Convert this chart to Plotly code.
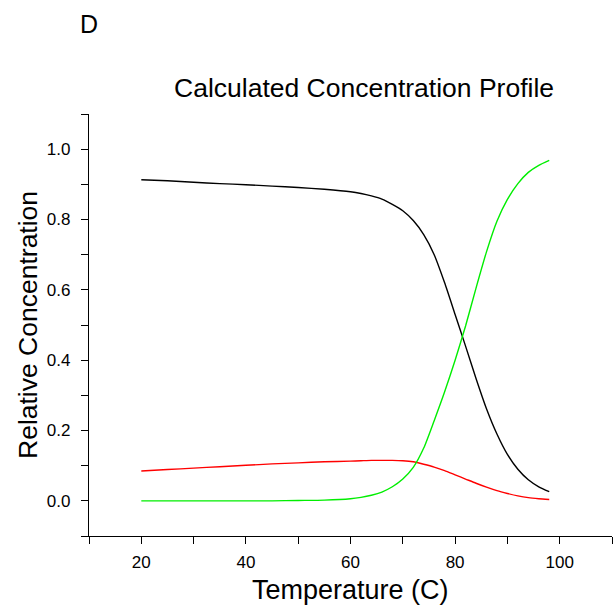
import plotly.graph_objects as go

temperature = [20, 25, 30, 35, 40, 45, 50, 55, 60, 62, 64, 66, 68, 70, 72, 74, 76, 78, 80, 82, 84, 86, 88, 90, 92, 94, 96, 98]
black_series = [0.913, 0.910, 0.906, 0.902, 0.899, 0.895, 0.891, 0.886, 0.879, 0.874, 0.867, 0.858, 0.843, 0.825, 0.797, 0.757, 0.700, 0.620, 0.530, 0.440, 0.348, 0.262, 0.190, 0.132, 0.090, 0.060, 0.040, 0.026]
green_series = [0.000, 0.000, 0.000, 0.000, 0.000, 0.000, 0.001, 0.002, 0.006, 0.010, 0.016, 0.025, 0.040, 0.062, 0.095, 0.150, 0.228, 0.310, 0.400, 0.497, 0.605, 0.708, 0.795, 0.857, 0.902, 0.934, 0.954, 0.968]
red_series = [0.085, 0.089, 0.093, 0.097, 0.101, 0.105, 0.108, 0.111, 0.113, 0.114, 0.115, 0.115, 0.115, 0.114, 0.111, 0.104, 0.096, 0.086, 0.074, 0.062, 0.050, 0.039, 0.029, 0.021, 0.014, 0.009, 0.006, 0.004]

x_ticks = [20, 40, 60, 80, 100]
y_ticks = [0.0, 0.2, 0.4, 0.6, 0.8, 1.0]
y_tick_labels = ["0.0", "0.2", "0.4", "0.6", "0.8", "1.0"]

FONT = "Liberation Sans, Arial, sans-serif"

fig = go.Figure()
for ys, col in [(black_series, "#000000"), (red_series, "#ff0000"), (green_series, "#00ee00")]:
    fig.add_trace(go.Scatter(x=temperature, y=ys, mode="lines",
                             line=dict(color=col, width=1.4, shape="spline", smoothing=0.6),
                             showlegend=False, hoverinfo="skip"))

axis_common = dict(showgrid=False, zeroline=False, showline=True, linecolor="#000000", linewidth=1.3,
                   ticks="outside", ticklen=7, tickwidth=1.2, tickcolor="#000000",
                   tickfont=dict(family=FONT, size=17, color="#000000"))

fig.update_xaxes(range=[10, 110], tickvals=x_ticks, ticktext=[str(v) for v in x_ticks],
                 minor=dict(ticks="outside", ticklen=7, tickwidth=1.2, tickcolor="#000000", dtick=10, tick0=10),
                 ticklabelstandoff=3, **axis_common)
fig.update_yaxes(range=[-0.1, 1.1], tickvals=y_ticks, ticktext=y_tick_labels,
                 minor=dict(ticks="outside", ticklen=7, tickwidth=1.2, tickcolor="#000000", dtick=0.1, tick0=-0.1),
                 ticklabelstandoff=7, **axis_common)

fig.update_layout(
    width=614, height=606,
    margin=dict(l=89, r=2, t=114, b=70),
    paper_bgcolor="white", plot_bgcolor="white",
    annotations=[
        dict(text="D", x=0, y=1.0, xref="paper", yref="paper", xanchor="center",
             yanchor="middle", yshift=90, showarrow=False,
             font=dict(family=FONT, size=25, color="#000000")),
        dict(text="Calculated Concentration Profile", x=0.526, y=1.0, xref="paper", yref="paper",
             yanchor="middle", yshift=26, showarrow=False,
             font=dict(family=FONT, size=26.5, color="#000000")),
        dict(text="Temperature (C)", x=0.5, y=0, xref="paper", yref="paper",
             yanchor="middle", yshift=-54, showarrow=False,
             font=dict(family=FONT, size=27, color="#000000")),
        dict(text="Relative Concentration", x=0, y=0.5, xref="paper", yref="paper",
             xanchor="center", xshift=-61, textangle=-90, showarrow=False,
             font=dict(family=FONT, size=26.5, color="#000000")),
    ],
)

fig.write_html("out.html")
